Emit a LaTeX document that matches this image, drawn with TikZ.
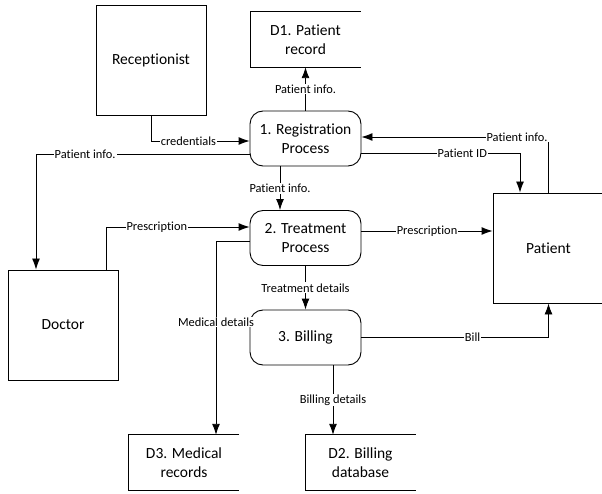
\documentclass[tikz,border=0pt]{standalone}
\usepackage{fontspec}
\setmainfont{Carlito}[Ligatures=NoCommon]
\usetikzlibrary{positioning, shapes, arrows.meta}

\tikzset{
    entity/.style={draw, line width=0.9pt, minimum width=110pt, minimum height=110pt, inner sep=0pt, font=\fontsize{15.5}{18.5}\selectfont},
    process/.style={draw, line width=0.9pt, rounded corners=13pt, minimum width=111pt, minimum height=55pt, align=center, inner sep=0pt, font=\fontsize{15.5}{18.5}\selectfont},
    store/.style={minimum width=110pt, minimum height=55pt, align=center, inner sep=0pt, font=\fontsize{15.5}{18.5}\selectfont},
    flow/.style={line width=0.9pt, -{Latex[length=11pt, width=8pt]}},
    lbl/.style={fill=white, inner sep=1pt, font=\fontsize{12.4}{14}\selectfont},
}

\begin{document}
\begin{tikzpicture}[x=1pt, y=-1pt]
    \useasboundingbox (0, 0) rectangle (602, 494);

    % external entities
    \node[entity] (rec) at (151, 60) {Receptionist};
    \node[entity] (doc) at (63, 325) {Doctor};
    \node[entity, minimum width=111pt] (pat) at (548.5, 248) {Patient};

    % processes
    \node[process] (p1) at (305.5, 138.5) {1. Registration\\Process};
    \node[process] (p2) at (305.5, 238) {2. Treatment\\Process};
    \node[process] (p3) at (305.5, 337.5) {3. Billing};

    % data stores (open on the right)
    \node[store] (d1) at (305.5, 39.5) {D1. Patient\\record};
    \node[store] (d3) at (184, 462.5) {D3. Medical\\records};
    \node[store] (d2) at (360.5, 462.5) {D2. Billing\\database};
    \foreach \s in {d1, d2, d3}
        \draw[line width=0.9pt] (\s.north east) -- (\s.north west) -- (\s.south west) -- (\s.south east);

    % data flows
    \draw[flow] (rec.south) |- ([yshift=-2.5pt]p1.west) node[lbl, pos=0.69] {credentials};
    \draw[flow] ([yshift=-15.5pt]p1.west) -| ([xshift=-27pt]doc.north) node[lbl, pos=0.385] {Patient info.};
    \draw[flow] (p1.north) -- (d1.south) node[lbl, midway] {Patient info.};
    \draw[flow] ([xshift=-25.5pt]p1.south) -- ([xshift=-25.5pt]p2.north) node[lbl, midway] {Patient info.};
    \draw[flow] (pat.north) |- ([yshift=1.5pt]p1.east) node[lbl, pos=0.584] {Patient info.};
    \draw[flow] ([yshift=-14.5pt]p1.east) -| ([xshift=-28.5pt]pat.north) node[lbl, pos=0.318] {Patient ID};

    \draw[flow] ([xshift=43pt]doc.north) |- ([yshift=11pt]p2.west) node[lbl, pos=0.677] {Prescription};
    \draw[flow] ([yshift=7pt]p2.east) -- ([yshift=17pt]pat.west) node[lbl, midway] {Prescription};
    \draw[flow] ([yshift=-3pt]p2.west) -| ([xshift=32pt]d3.north) node[lbl, pos=0.709] {Medical details};
    \draw[flow] (p2.south) -- (p3.north) node[lbl, midway] {Treatment details};

    \draw[flow] (p3.east) -| (pat.south) node[lbl, pos=0.297] {Bill};
    \draw[flow] ([xshift=27.5pt]p3.south) -- ([xshift=-27.5pt]d2.north) node[lbl, midway] {Billing details};

\end{tikzpicture}
\end{document}
